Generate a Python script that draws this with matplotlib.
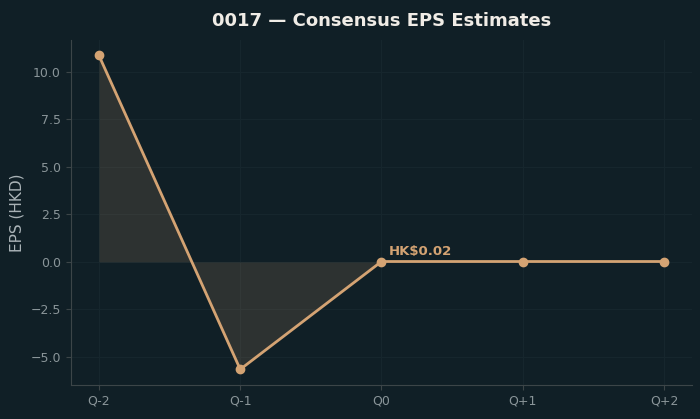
import numpy as np
import matplotlib
matplotlib.use("Agg")
import matplotlib.pyplot as plt

# consensus EPS by quarter (HKD)
quarters = ["Q-2", "Q-1", "Q0", "Q+1", "Q+2"]
eps = [10.85, -5.65, 0.02, 0.02, 0.02]
current_label = "HK$0.02"

BG = "#101f26"
LINE = "#d4a373"


def plot_eps():
    fig, ax = plt.subplots(figsize=(7, 4.19), dpi=100)
    fig.patch.set_facecolor(BG)
    ax.set_facecolor(BG)

    x = np.arange(len(quarters))
    ax.fill_between(x, eps, 0, color=LINE, alpha=0.15, linewidth=0)
    ax.plot(x, eps, color=LINE, linewidth=2, marker="o", markersize=6)
    ax.annotate(current_label, (x[2], eps[2]), xytext=(5, 5), textcoords="offset points",
                color=LINE, fontsize=9.5, fontweight="bold")

    ax.set_xticks(x)
    ax.set_xticklabels(quarters)
    ax.set_ylabel("EPS (HKD)", color="#aab3b7", fontsize=11)
    ax.set_title("0017 — Consensus EPS Estimates", color="#f0ece6",
                 fontsize=13, fontweight="bold", pad=10)

    ax.grid(True, color="#16262d", linewidth=0.8)
    ax.set_axisbelow(True)
    for side in ["top", "right"]:
        ax.spines[side].set_visible(False)
    for side in ["left", "bottom"]:
        ax.spines[side].set_color("#3c4548")
    ax.tick_params(colors="#3c4548", labelcolor="#8a9599", labelsize=9)

    fig.subplots_adjust(left=0.101, right=0.989, top=0.905, bottom=0.081)
    fig.savefig("out.png", facecolor=BG)


if __name__ == "__main__":
    plot_eps()
